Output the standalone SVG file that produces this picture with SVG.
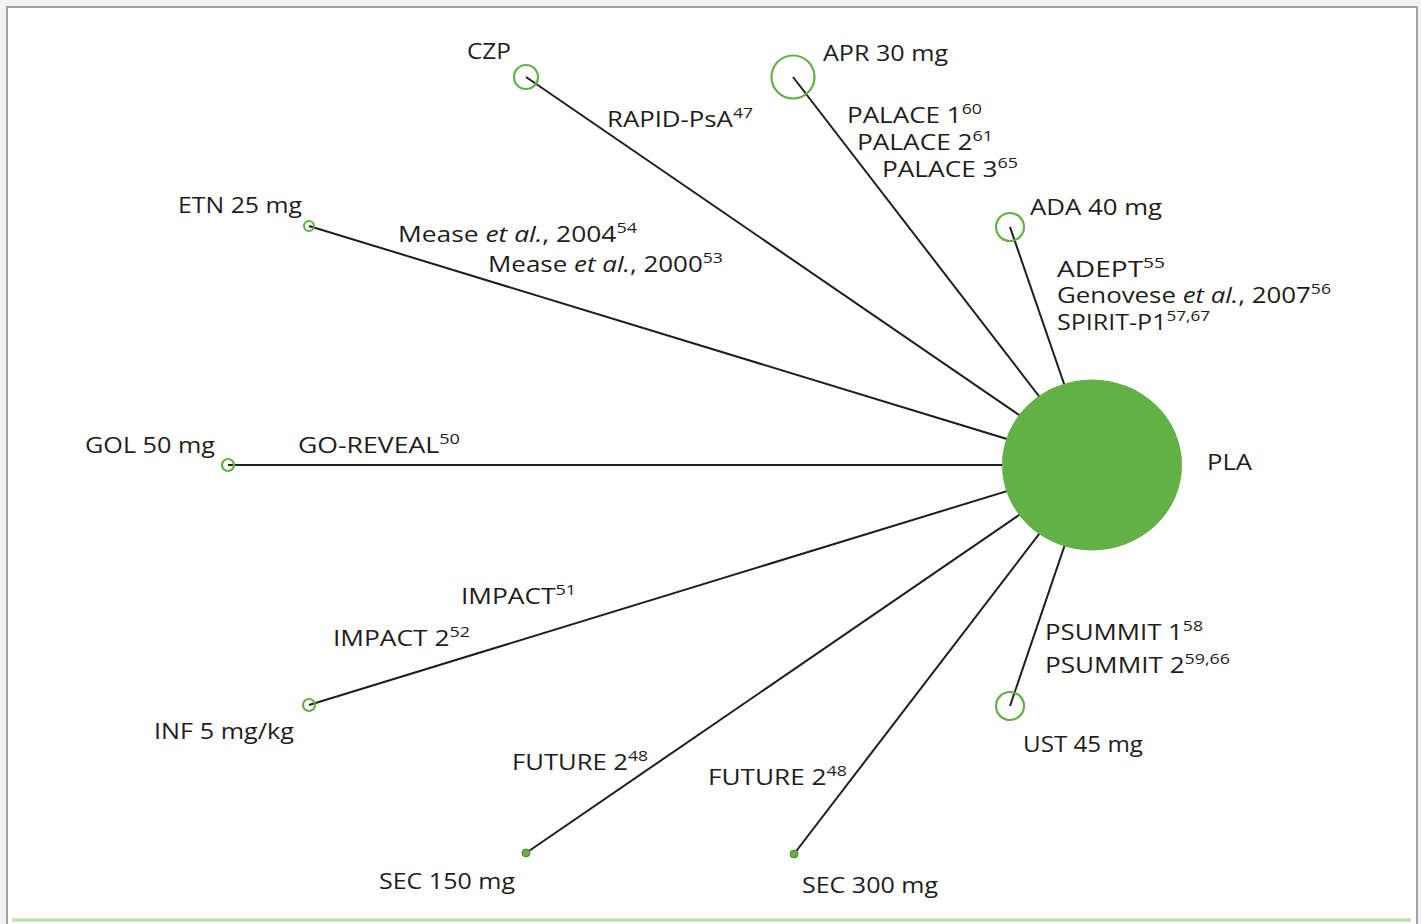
<svg xmlns="http://www.w3.org/2000/svg" width="1421" height="924" viewBox="0 0 1421 924">
<style>
  text { font-family: "Open Sans", "Noto Sans", "Liberation Sans", sans-serif; font-size: 22px; fill: #1f1c1d; }
  .sup { font-size: 15px; }
  .it { font-style: italic; }
  .edge { stroke: #1e1e1e; stroke-width: 2; fill: none; }
  .node { fill: none; stroke: #62b146; stroke-width: 2.2; }
  .dot { fill: #62b146; stroke: #4a8f35; stroke-width: 1; }
</style>
<rect x="0" y="0" width="1421" height="924" fill="#f3f3f3"/>
<rect x="7" y="7" width="1410" height="925" fill="#ffffff" stroke="#a3a3a3" stroke-width="2"/>
<line x1="12" y1="920" x2="1411" y2="920" stroke="#c3e0b3" stroke-width="3.5"/>

<g id="connectors">
  <line class="edge" x1="526" y1="77" x2="1092" y2="465"/>
  <line class="edge" x1="793" y1="77" x2="1092" y2="465"/>
  <line class="edge" x1="1010" y1="227" x2="1092" y2="465"/>
  <line class="edge" x1="309" y1="226" x2="1092" y2="465"/>
  <line class="edge" x1="228" y1="465" x2="1092" y2="465"/>
  <line class="edge" x1="309" y1="705" x2="1092" y2="465"/>
  <line class="edge" x1="526" y1="853" x2="1092" y2="465"/>
  <line class="edge" x1="794" y1="854" x2="1092" y2="465"/>
  <line class="edge" x1="1010" y1="706" x2="1092" y2="465"/>
  <g id="edge-labels">
    <text x="607" y="127" textLength="146" lengthAdjust="spacingAndGlyphs">RAPID-PsA<tspan class="sup" dy="-9">47</tspan></text>
    <text x="847" y="123" textLength="135" lengthAdjust="spacingAndGlyphs">PALACE 1<tspan class="sup" dy="-9">60</tspan></text>
    <text x="857" y="150" textLength="136" lengthAdjust="spacingAndGlyphs">PALACE 2<tspan class="sup" dy="-9">61</tspan></text>
    <text x="882" y="177" textLength="136" lengthAdjust="spacingAndGlyphs">PALACE 3<tspan class="sup" dy="-9">65</tspan></text>
    <text x="398" y="242" textLength="239" lengthAdjust="spacingAndGlyphs">Mease <tspan class="it">et al.</tspan>, 2004<tspan class="sup" dy="-9">54</tspan></text>
    <text x="488" y="272" textLength="235" lengthAdjust="spacingAndGlyphs">Mease <tspan class="it">et al.</tspan>, 2000<tspan class="sup" dy="-9">53</tspan></text>
    <text x="1057" y="277" textLength="108" lengthAdjust="spacingAndGlyphs">ADEPT<tspan class="sup" dy="-9">55</tspan></text>
    <text x="1057" y="303" textLength="274" lengthAdjust="spacingAndGlyphs">Genovese <tspan class="it">et al.</tspan>, 2007<tspan class="sup" dy="-9">56</tspan></text>
    <text x="1057" y="330" textLength="153" lengthAdjust="spacingAndGlyphs">SPIRIT-P1<tspan class="sup" dy="-9">57,67</tspan></text>
    <text x="298" y="453" textLength="162" lengthAdjust="spacingAndGlyphs">GO-REVEAL<tspan class="sup" dy="-9">50</tspan></text>
    <text x="461" y="604" textLength="115" lengthAdjust="spacingAndGlyphs">IMPACT<tspan class="sup" dy="-9">51</tspan></text>
    <text x="333" y="646" textLength="137" lengthAdjust="spacingAndGlyphs">IMPACT 2<tspan class="sup" dy="-9">52</tspan></text>
    <text x="512" y="770" textLength="136" lengthAdjust="spacingAndGlyphs">FUTURE 2<tspan class="sup" dy="-9">48</tspan></text>
    <text x="708" y="785" textLength="139" lengthAdjust="spacingAndGlyphs">FUTURE 2<tspan class="sup" dy="-9">48</tspan></text>
    <text x="1045" y="640" textLength="158" lengthAdjust="spacingAndGlyphs">PSUMMIT 1<tspan class="sup" dy="-9">58</tspan></text>
    <text x="1045" y="673" textLength="185" lengthAdjust="spacingAndGlyphs">PSUMMIT 2<tspan class="sup" dy="-9">59,66</tspan></text>
  </g>
</g>

<g id="node-PLA">
  <ellipse cx="1092" cy="465" rx="90" ry="85.5" fill="#62b146"/>
  <text x="1207" y="470" textLength="45" lengthAdjust="spacingAndGlyphs">PLA</text>
</g>
<g id="node-CZP">
  <circle class="node" cx="526" cy="77" r="12"/>
  <text x="467" y="59" textLength="44" lengthAdjust="spacingAndGlyphs">CZP</text>
</g>
<g id="node-APR">
  <circle class="node" cx="793" cy="77" r="21.5"/>
  <text x="823" y="61" textLength="125" lengthAdjust="spacingAndGlyphs">APR 30 mg</text>
</g>
<g id="node-ADA">
  <circle class="node" cx="1010" cy="227" r="14"/>
  <text x="1030" y="215" textLength="132" lengthAdjust="spacingAndGlyphs">ADA 40 mg</text>
</g>
<g id="node-ETN">
  <circle class="node" cx="309" cy="226" r="5"/>
  <text x="178" y="213" textLength="124" lengthAdjust="spacingAndGlyphs">ETN 25 mg</text>
</g>
<g id="node-GOL">
  <circle class="node" cx="228" cy="465" r="6"/>
  <text x="85" y="453" textLength="130" lengthAdjust="spacingAndGlyphs">GOL 50 mg</text>
</g>
<g id="node-INF">
  <circle class="node" cx="309" cy="705" r="6"/>
  <text x="154" y="739" textLength="140" lengthAdjust="spacingAndGlyphs">INF 5 mg/kg</text>
</g>
<g id="node-SEC150">
  <circle class="dot" cx="526" cy="853" r="4"/>
  <text x="379" y="889" textLength="136" lengthAdjust="spacingAndGlyphs">SEC 150 mg</text>
</g>
<g id="node-SEC300">
  <circle class="dot" cx="794" cy="854" r="4"/>
  <text x="802" y="893" textLength="136" lengthAdjust="spacingAndGlyphs">SEC 300 mg</text>
</g>
<g id="node-UST">
  <circle class="node" cx="1010" cy="706" r="14"/>
  <text x="1023" y="752" textLength="120" lengthAdjust="spacingAndGlyphs">UST 45 mg</text>
</g>
</svg>
